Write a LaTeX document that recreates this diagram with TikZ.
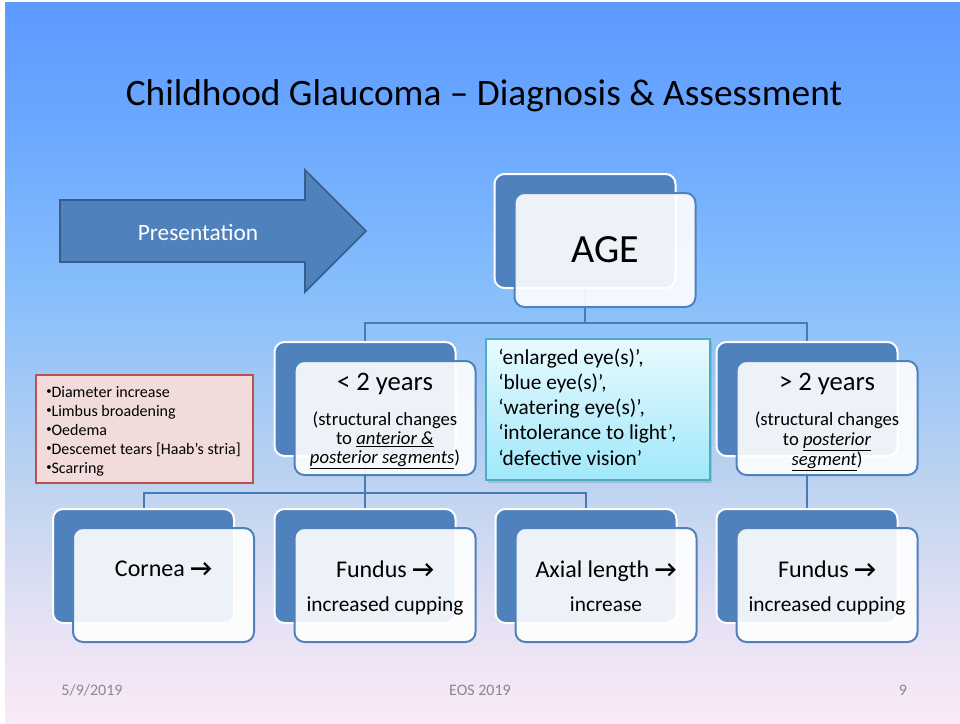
\documentclass[tikz,border=0pt]{standalone}
\usepackage{fontspec}
\setmainfont{Carlito}
\usetikzlibrary{shadows}

\definecolor{boxblue}{RGB}{79,129,189}
\definecolor{connblue}{RGB}{72,122,184}
\definecolor{arrowedge}{RGB}{56,93,138}
\definecolor{notefill}{RGB}{242,220,219}
\definecolor{noteedge}{RGB}{192,80,77}
\definecolor{cyanedge}{RGB}{75,172,198}
\definecolor{cyantop}{RGB}{232,250,255}
\definecolor{cyanbot}{RGB}{160,232,250}
\definecolor{footgray}{RGB}{137,137,137}
\definecolor{bgtop}{RGB}{92,155,255}
\definecolor{bgb}{RGB}{104,166,255}
\definecolor{bgc}{RGB}{135,190,252}
\definecolor{bgd}{RGB}{186,210,240}
\definecolor{bge}{RGB}{228,225,244}
\definecolor{bgbot}{RGB}{251,234,247}

% the middle 50bp of the shading cover the filled area
\pgfdeclareverticalshading{slidebg}{100bp}{%
  color(0bp)=(bgbot); color(25bp)=(bgbot); color(32.5bp)=(bge);
  color(42.5bp)=(bgd); color(55bp)=(bgc); color(67.5bp)=(bgb);
  color(75bp)=(bgtop); color(100bp)=(bgtop)}

\pgfdeclarelayer{bglayer}
\pgfdeclarelayer{wires}
\pgfsetlayers{bglayer,wires,main}

\newcommand{\fs}[2]{\fontsize{#1}{#2}\selectfont}
\newcommand{\rarr}{\textbf{→}}
\newcommand{\smbullet}{{\fontsize{8}{9}\selectfont\raisebox{0.2em}{•}}}

\tikzset{
  backbox/.style={draw=white, line width=1.5pt, fill=boxblue,
    rounded corners=7.5pt, minimum width=135.75pt, minimum height=85.5pt,
    inner sep=0pt},
  frontbox/.style={draw=boxblue, line width=1.5pt, fill=white, fill opacity=0.9,
    rounded corners=7.5pt, minimum width=135.75pt, minimum height=85.5pt,
    inner sep=0pt},
  conn/.style={draw=connblue, line width=1.5pt},
  lbl/.style={inner sep=0pt, anchor=base, text=black},
  lblw/.style={inner sep=0pt, anchor=base west, text=black},
  foot/.style={inner sep=0pt, anchor=base, text=footgray, font=\fs{12}{14}},
}

\begin{document}
\begin{tikzpicture}[x=0.75pt, y=-0.75pt]
\useasboundingbox (0,0) rectangle (960,724);

% slide background
\begin{pgfonlayer}{bglayer}
  \fill[white] (0,0) rectangle (960,724);
  \shade[shading=slidebg] (5,3) rectangle (960,724);
\end{pgfonlayer}

% title
\node[lbl, font=\fs{28}{34}] (title) at (484,105)
  {Childhood Glaucoma – Diagnosis \& Assessment};

% presentation arrow
\draw[fill=boxblue, draw=arrowedge, line width=1.2pt]
  (60,200) -- (305,200) -- (305,170) -- (366,231) -- (305,292) -- (305,262)
  -- (60,262) -- cycle;
\node[lbl, text=white, font=\fs{17.5}{21}] (pres) at (198,240) {Presentation};

% AGE
\node[backbox] (ageB) at (585,231) {};
\node[frontbox] (ageF) at (605,250) {};
\node[lbl, font=\fs{30}{36}] (age) at (605,262) {AGE};

% second level
\node[backbox] (lt2B) at (365,399) {};
\node[frontbox] (lt2F) at (385,418) {};
\node[lbl, font=\fs{20}{24}] (lt2) at (385,390) {< 2 years};
\node[lbl, font=\fs{14}{17}] (lt2a) at (385,425) {(structural changes};
\node[lbl, font=\fs{14}{17}] (lt2b) at (385,444) {to \underline{\textit{anterior \&}}};
\node[lbl, font=\fs{14}{17}] (lt2c) at (385,463) {\underline{\textit{posterior segments}})};

\node[backbox] (gt2B) at (807,399) {};
\node[frontbox] (gt2F) at (827,418) {};
\node[lbl, font=\fs{20}{24}] (gt2) at (827,390) {> 2 years};
\node[lbl, font=\fs{14}{17}] (gt2a) at (827,425) {(structural changes};
\node[lbl, font=\fs{14}{17}] (gt2b) at (827,445) {to \underline{\textit{posterior}}};
\node[lbl, font=\fs{14}{17}] (gt2c) at (827,465) {\underline{\textit{segment}})};

% third level
\node[backbox] (corB) at (143.5,566) {};
\node[frontbox] (corF) at (163.5,585) {};
\node[lbl, font=\fs{18}{22}] (cor) at (163.5,576) {Cornea \rarr};

\node[backbox] (fu1B) at (365,566) {};
\node[frontbox] (fu1F) at (385,585) {};
\node[lbl, font=\fs{18}{22}] (fu1) at (385,577) {Fundus \rarr};
\node[lbl, font=\fs{16}{19}] (fu1b) at (385,611) {increased cupping};

\node[backbox] (axB) at (586,566) {};
\node[frontbox] (axF) at (606,585) {};
\node[lbl, font=\fs{18}{22}] (ax) at (606,577) {Axial length \rarr};
\node[lbl, font=\fs{16}{19}] (axb) at (606,611) {increase};

\node[backbox] (fu2B) at (807,566) {};
\node[frontbox] (fu2F) at (827,585) {};
\node[lbl, font=\fs{18}{22}] (fu2) at (827,577) {Fundus \rarr};
\node[lbl, font=\fs{16}{19}] (fu2b) at (827,611) {increased cupping};

% connectors
\begin{pgfonlayer}{wires}
  \draw[conn] (ageB.south) -- ++(0,34) -| (lt2B.north);
  \draw[conn] (ageB.south) -- ++(0,34) -| (gt2B.north);
  \draw[conn] (lt2B.south) -- ++(0,36) -| (corB.north);
  \draw[conn] (lt2B.south) -- (fu1B.north);
  \draw[conn] (lt2B.south) -- ++(0,36) -| (axB.north);
  \draw[conn] (gt2B.south) -- (fu2B.north);
\end{pgfonlayer}

% symptoms box
\node[draw=cyanedge, line width=2.2pt, top color=cyantop, bottom color=cyanbot,
  minimum width=168pt, minimum height=105.75pt, inner sep=0pt,
  drop shadow={shadow xshift=1.5pt, shadow yshift=-2pt, opacity=0.3}]
  (symp) at (598,409.5) {};
\node[lblw, font=\fs{16}{19}] (s1) at (498,364) {‘enlarged eye(s)’,};
\node[lblw, font=\fs{16}{19}] (s2) at (498,389) {‘blue eye(s)’,};
\node[lblw, font=\fs{16}{19}] (s3) at (498,414) {‘watering eye(s)’,};
\node[lblw, font=\fs{16}{19}] (s4) at (498,439) {‘intolerance to light’,};
\node[lblw, font=\fs{16}{19}] (s5) at (498,465) {‘defective vision’};

% cornea notes box
\node[draw=noteedge, line width=1.5pt, fill=notefill,
  minimum width=162.75pt, minimum height=81pt, inner sep=0pt]
  (notes) at (144.5,429) {};
\node[lblw, font=\fs{12}{14}] (n1) at (46,397) {\smbullet Diameter increase};
\node[lblw, font=\fs{12}{14}] (n2) at (46,416) {\smbullet Limbus broadening};
\node[lblw, font=\fs{12}{14}] (n3) at (46,435) {\smbullet Oedema};
\node[lblw, font=\fs{12}{14}] (n4) at (46,454) {\smbullet Descemet tears [Haab’s stria]};
\node[lblw, font=\fs{12}{14}] (n5) at (46,473) {\smbullet Scarring};

% footer
\node[foot] (date) at (92,695) {5/9/2019};
\node[foot] (conf) at (480,695) {EOS 2019};
\node[foot] (page) at (903,695) {9};
\end{tikzpicture}
\end{document}
